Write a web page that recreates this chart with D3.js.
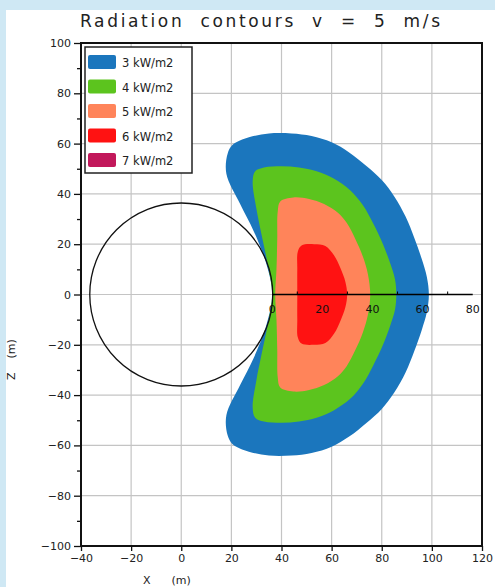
<!DOCTYPE html>
<html>
<head>
<meta charset="utf-8">
<script src="https://cdn.jsdelivr.net/npm/d3@7"></script>
<style>
  body { margin: 0; background: #cfe8f4; }
  svg { display: block; }
</style>
</head>
<body>
<script>
// contour levels (kW/m2) and their colours
var levels = ["3 kW/m2", "4 kW/m2", "5 kW/m2", "6 kW/m2", "7 kW/m2"];
var levelColors = ["#1b76bd", "#5cc41e", "#ff845a", "#ff1212", "#c2185b"];

// outlines of the filled contours, [x, z] in metres
var contour3 = [[36.3,0],[34,12],[29,25],[23.5,36],[18,48],[18.5,56],[20.5,59.5],[27,62.5],[35,64],[44,64],[52,63],[60,60.5],[67,56.5],[74,51],[80,45.5],[85,39],[89.5,31],[93,22.5],[96,14],[98,7],[98.8,0],
  [98,-7],[96,-14],[93,-22.5],[89.5,-31],[85,-39],[80,-45.5],[74,-51],[67,-56.5],[60,-60.5],[52,-63],[44,-64],[35,-64],[27,-62.5],[20.5,-59.5],[18.5,-56],[18,-48],[23.5,-36],[29,-25],[34,-12]];
var contour4 = [[36.3,0],[34.5,12],[32,24],[30,34],[28.5,45],[29.5,49],[33,50.5],[40,51],[47,50.5],[54,49],[61,46],[67.4,41.5],[72.5,35.5],[76.6,28.2],[80.5,20],[83.4,12.3],[85.3,6],[85.8,0],
  [85.3,-6],[83.4,-12.3],[80.5,-20],[76.6,-28.2],[72.5,-35.5],[67.4,-41.5],[61,-46],[54,-49],[47,-50.5],[40,-51],[33,-50.5],[29.5,-49],[28.5,-45],[30,-34],[32,-24],[34.5,-12]];
var contour5 = [[37.5,0],[38,10],[38.3,22],[38.5,33],[39.5,37],[44.7,38.6],[51,38],[57,36],[62.5,32.5],[66,28.5],[69.5,22],[72.5,15],[74.5,8],[75.4,0],
  [74.5,-8],[72.5,-15],[69.5,-22],[66,-28.5],[62.5,-32.5],[57,-36],[51,-38],[44.7,-38.6],[39.5,-37],[38.5,-33],[38.3,-22],[38,-10]];
var contour6 = [[46.3,0],[46.3,10],[46.5,17],[48,19.5],[53,20],[57.5,19.3],[61,15.5],[63.5,10.5],[65.5,5],[66.2,0],
  [65.5,-5],[63.5,-10.5],[61,-15.5],[57.5,-19.3],[53,-20],[48,-19.5],[46.5,-17],[46.3,-10]];
var contours = [contour3, contour4, contour5, contour6];

var xTicks = [-40, -20, 0, 20, 40, 60, 80, 100, 120];
var zTicks = [-100, -80, -60, -40, -20, 0, 20, 40, 60, 80, 100];
var innerTicks = [0, 20, 40, 60, 80];
var circleRadius = 36.5;   // m
var innerOrigin = 36.3;    // where the distance axis starts

var width = 495, height = 587;
var box = {left: 81, right: 482, top: 43, bottom: 546};

var svg = d3.select("body").append("svg")
  .attr("width", width)
  .attr("height", height);

svg.append("rect")
  .attr("x", 6).attr("y", 10)
  .attr("width", width - 6).attr("height", height - 10)
  .attr("fill", "#ffffff");

var x = d3.scaleLinear().domain([-40, 120]).range([box.left, box.right]);
var y = d3.scaleLinear().domain([-100, 100]).range([box.bottom, box.top]);

// grid
svg.append("g").selectAll("line")
  .data(xTicks.slice(1, -1))
  .enter().append("line")
  .attr("x1", function(d) { return x(d); }).attr("x2", function(d) { return x(d); })
  .attr("y1", box.top).attr("y2", box.bottom)
  .attr("stroke", "#c4c4c4").attr("stroke-width", 1.2);
svg.append("g").selectAll("line")
  .data(zTicks.slice(1, -1))
  .enter().append("line")
  .attr("x1", box.left).attr("x2", box.right)
  .attr("y1", function(d) { return y(d); }).attr("y2", function(d) { return y(d); })
  .attr("stroke", "#c4c4c4").attr("stroke-width", 1.2);

// contours
var line = d3.line()
  .x(function(d) { return x(d[0]); })
  .y(function(d) { return y(d[1]); })
  .curve(d3.curveCatmullRomClosed.alpha(0.5));

svg.append("g").selectAll("path")
  .data(contours)
  .enter().append("path")
  .attr("d", line)
  .attr("fill", function(d, i) { return levelColors[i]; });

// circle
svg.append("circle")
  .attr("cx", x(0)).attr("cy", y(0))
  .attr("r", x(circleRadius) - x(0))
  .attr("fill", "none")
  .attr("stroke", "#111").attr("stroke-width", 1.3);

// distance axis along z = 0
var gi = svg.append("g");
gi.append("line")
  .attr("x1", x(innerOrigin)).attr("x2", x(innerOrigin + 80))
  .attr("y1", y(0)).attr("y2", y(0))
  .attr("stroke", "#000").attr("stroke-width", 1.6);
gi.selectAll("line.t")
  .data([10, 30, 50, 70])
  .enter().append("line")
  .attr("class", "t")
  .attr("x1", function(d) { return x(innerOrigin + d); })
  .attr("x2", function(d) { return x(innerOrigin + d); })
  .attr("y1", y(0)).attr("y2", y(0) - 3)
  .attr("stroke", "#000");
gi.selectAll("text")
  .data(innerTicks)
  .enter().append("text")
  .attr("x", function(d) { return x(innerOrigin + d); })
  .attr("y", y(0) + 18)
  .attr("text-anchor", "middle")
  .attr("font-family", "DejaVu Sans, sans-serif")
  .attr("font-size", 11)
  .attr("fill", "#111")
  .text(function(d) { return d; });

// frame
svg.append("rect")
  .attr("x", box.left).attr("y", box.top)
  .attr("width", box.right - box.left).attr("height", box.bottom - box.top)
  .attr("fill", "none")
  .attr("stroke", "#111").attr("stroke-width", 2);

// y axis
svg.append("g").attr("transform", "translate(" + box.left + ",0)")
  .call(d3.axisLeft(y).tickValues(zTicks).tickSize(7).tickPadding(3).tickFormat(d3.format("d")));
svg.append("g").attr("transform", "translate(" + box.left + ",0)")
  .call(d3.axisLeft(y).tickValues(d3.range(-90, 100, 20)).tickSize(4).tickFormat(""));

// x axis
svg.append("g").attr("transform", "translate(0," + box.bottom + ")")
  .call(d3.axisBottom(x).tickValues(xTicks).tickSize(5).tickPadding(3).tickFormat(d3.format("d")));

svg.selectAll(".domain").remove();
svg.selectAll(".tick line").attr("stroke", "#111").attr("stroke-width", 1.3);
svg.selectAll(".tick text")
  .attr("font-family", "DejaVu Sans, sans-serif")
  .attr("font-size", 11)
  .attr("fill", "#222");

// legend
var lg = svg.append("g");
lg.append("rect")
  .attr("x", 85).attr("y", 47)
  .attr("width", 107).attr("height", 126)
  .attr("fill", "#fff")
  .attr("stroke", "#222").attr("stroke-width", 1.5);
var items = lg.selectAll("g")
  .data(levels)
  .enter().append("g")
  .attr("transform", function(d, i) { return "translate(88," + (55 + i * 24.5) + ")"; });
items.append("rect")
  .attr("width", 28).attr("height", 14)
  .attr("rx", 2)
  .attr("fill", function(d, i) { return levelColors[i]; });
items.append("text")
  .attr("x", 34).attr("y", 12)
  .attr("font-family", "DejaVu Sans, sans-serif")
  .attr("font-size", 11.5)
  .attr("fill", "#222")
  .text(function(d) { return d; });

// title and axis names
svg.append("text")
  .attr("x", 80).attr("y", 27)
  .attr("textLength", 360)
  .attr("lengthAdjust", "spacing")
  .attr("font-family", "DejaVu Sans, sans-serif")
  .attr("font-size", 17)
  .attr("fill", "#222")
  .attr("xml:space", "preserve")
  .text("Radiation  contours  v  =  5  m/s");

svg.append("text")
  .attr("x", 143).attr("y", 584)
  .attr("font-family", "DejaVu Sans, sans-serif")
  .attr("font-size", 11)
  .attr("fill", "#222")
  .attr("xml:space", "preserve")
  .text("X      (m)");

svg.append("text")
  .attr("transform", "translate(15,380) rotate(-90)")
  .attr("font-family", "DejaVu Sans, sans-serif")
  .attr("font-size", 11)
  .attr("fill", "#222")
  .attr("xml:space", "preserve")
  .text("Z    (m)");
</script>
</body>
</html>
